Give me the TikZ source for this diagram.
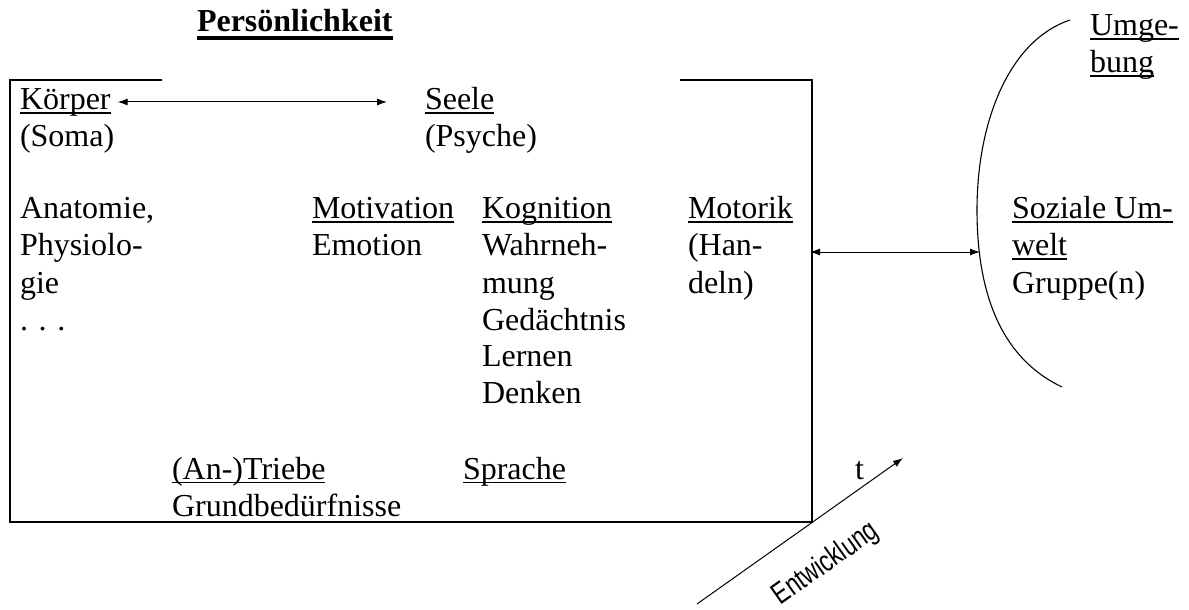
\documentclass[tikz,border=0pt]{standalone}
\usepackage{fontspec}
\setmainfont{Liberation Serif}
\newfontfamily\entfont[FakeStretch=0.76]{Liberation Sans}
\usetikzlibrary{arrows.meta}
\newcommand\ulin[1]{\setbox0\hbox{#1}\rlap{\rule[-1.8pt]{\wd0}{0.55pt}}\box0}
\newcommand\ulbold[1]{\setbox0\hbox{#1}\rlap{\rule[-3.8pt]{\wd0}{1.6pt}}\box0}
\newcommand\col[1]{\begin{tabular}[t]{@{}l@{}}#1\end{tabular}}
\tikzset{
  txt/.style={anchor=base west, inner sep=0pt, outer sep=0pt, font=\fontsize{16}{18.5}\selectfont},
  boxline/.style={line width=1pt},
  arr/.style={line width=0.5pt, {Latex[length=5pt,width=3.5pt]}-{Latex[length=5pt,width=3.5pt]}},
  onearr/.style={line width=0.5pt, -{Latex[length=5pt,width=3.5pt]}},
  thin/.style={line width=0.55pt}
}
\begin{document}
\begin{tikzpicture}[x=0.5pt,y=-0.5pt]
\useasboundingbox (0,0) rectangle (1189,610);
% box
\coordinate (tl1) at (162,80);
\coordinate (tl0) at (10,80);
\coordinate (bl) at (10,522);
\coordinate (corner) at (812,522);
\coordinate (tr) at (812,80);
\coordinate (tr0) at (680,80);
\draw[boxline, line join=miter] (tl1) -- (tl0) -- (bl) -- (corner) -- (tr) -- (tr0);

% texts
\node[txt] (title) at (197,32) {\textbf{\ulbold{Persönlichkeit}}};
\node[txt] (koerper) at (20,110) {\ulin{Körper}};
\node[txt] (soma) at (20,147) {(Soma)};
\node[txt] (seele) at (425,110) {\ulin{Seele}};
\node[txt] (psyche) at (425,147) {(Psyche)};
\node[txt] (anat) at (20,219) {\col{Anatomie,\\Physiolo-\\gie\\. . .}};
\node[txt] (motiv) at (312,219) {\col{\ulin{Motivation}\\Emotion}};
\node[txt] (kogn) at (482,219) {\col{\ulin{Kognition}\\Wahrneh-\\mung\\Gedächtnis\\Lernen\\Denken}};
\node[txt] (motorik) at (688,219) {\col{\ulin{Motorik}\\(Han-\\deln)}};
\node[txt] (sozial) at (1012,219) {\col{\ulin{Soziale Um-}\\\ulin{welt}\\Gruppe(n)}};
\node[txt] (umg) at (1090,36) {\col{\ulin{Umge-}\\\ulin{bung}}};
\node[txt] (triebe) at (172,479) {\col{\ulin{(An-)Triebe}\\Grundbedürfnisse}};
\node[txt] (sprache) at (463,479) {\ulin{Sprache}};
\node[txt] (t) at (855,479) {t};

% environment curve
\coordinate (ctop) at (1070,20);
\coordinate (cmid) at (977,210);
\coordinate (cbot) at (1062,387);
\draw[thin] (ctop) .. controls (1010,40) and (977,120) .. (cmid)
  .. controls (977,300) and (1005,360) .. (cbot);

% arrows
\draw[arr] ([xshift=3.5pt,yshift=4pt]koerper.base east) -- ([xshift=-19pt,yshift=4pt]seele.base west);
\coordinate (boxR) at (810,252);
\coordinate (envL) at (980,252);
\draw[arr] (boxR) -- (envL);

% development arrow
\coordinate (es) at (697,604);
\coordinate (et) at (903,458);
\draw[onearr] (es) -- (et);
\node[inner sep=0pt, rotate=35.3, font=\entfont\fontsize{15}{17}\selectfont] (entw) at (826,564) {Entwicklung};
\end{tikzpicture}
\end{document}
